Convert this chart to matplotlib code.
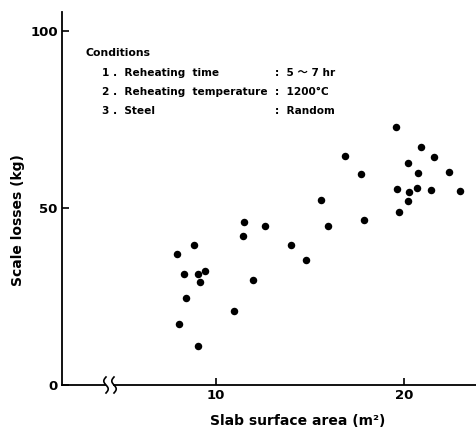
import numpy as np
import matplotlib
matplotlib.use("Agg")
import matplotlib.pyplot as plt
from matplotlib.patches import Rectangle

plt.rcParams['font.family'] = ['DejaVu Sans']

# Data
area = [7.91, 8.28, 8.02, 8.42, 8.85, 9.03, 9.13, 9.41, 9.04, 10.99,
        11.42, 11.49, 11.98, 12.61, 13.99, 14.82, 15.60, 15.99, 16.90, 17.75,
        17.87, 19.59, 19.66, 19.73, 20.21, 20.27, 20.23, 20.71, 20.76, 20.94,
        21.47, 21.63, 22.41, 23.00]
loss = [37.0, 31.3, 17.1, 24.5, 39.7, 31.4, 29.0, 32.1, 10.9, 20.9,
        42.1, 46.0, 29.6, 44.9, 39.5, 35.2, 52.3, 44.8, 64.8, 59.7,
        46.6, 72.9, 55.4, 48.9, 52.0, 54.5, 62.8, 55.7, 59.9, 67.3,
        55.2, 64.5, 60.2, 54.8]

xticks = [10, 20]
yticks = [0, 50, 100]

cond_items = ["1 .  Reheating  time", "2 .  Reheating  temperature", "3 .  Steel"]
cond_values = [":  5 ～ 7 hr", ":  1200°C", ":  Random"]

W, H = 477, 433
fig = plt.figure(figsize=(W / 100, H / 100), dpi=100)
L, B, R, T = 62, 385, 477, 12
ax = fig.add_axes([L / W, (H - B) / H, (R - L) / W, (B - T) / H])

ax.plot(area, loss, 'o', color='black', markersize=5.4, markeredgewidth=0)

ax.set_xlim(1.81, 23.9)
ax.set_ylim(0, 105.4)
ax.spines['top'].set_visible(False)
ax.spines['right'].set_visible(False)
for s in ('left', 'bottom'):
    ax.spines[s].set_linewidth(1.3)

ax.set_xticks(xticks)
ax.set_yticks(yticks)
ax.tick_params(direction='in', length=5, width=1.2, labelsize=9.5, pad=3)
for lbl in ax.get_xticklabels() + ax.get_yticklabels():
    lbl.set_fontweight('bold')

ax.set_xlabel("Slab surface area (m²)", fontsize=10, fontweight='bold')
ax.xaxis.set_label_coords((298 - L) / (R - L), -(414 - B) / (B - T))
ax.set_ylabel("Scale losses (kg)", fontsize=10, fontweight='bold')
ax.yaxis.set_label_coords(-(L - 25) / (R - L), (B - 220) / (B - T))

def fx(px):
    return px / W

def fy(py):
    return 1 - py / H

fig.text(fx(86), fy(53), "Conditions", fontsize=7.8, fontweight='bold', va='center')
ys = [73.5, 92, 110.5]
for y, item, val in zip(ys, cond_items, cond_values):
    fig.text(fx(102), fy(y), item, fontsize=7.6, fontweight='bold', va='center')
    fig.text(fx(275), fy(y), val, fontsize=7.6, fontweight='bold', va='center',
             family=['DejaVu Sans', 'Noto Sans CJK JP'])

# Axis break marks on the x axis
gap = Rectangle((fx(106), fy(387.5)), (113 - 106) / W, 5 / H, transform=fig.transFigure,
                facecolor='white', edgecolor='none', zorder=5)
fig.patches.append(gap)
t = np.linspace(0, 1, 40)
for x0 in (106, 114):
    px = x0 - 2.2 * np.sin(2 * np.pi * t)
    py = 377 + 16 * t
    fig.add_artist(plt.Line2D(px / W, 1 - py / H, transform=fig.transFigure,
                              color='black', linewidth=1.2, zorder=6))

fig.savefig("out.png", dpi=100)
